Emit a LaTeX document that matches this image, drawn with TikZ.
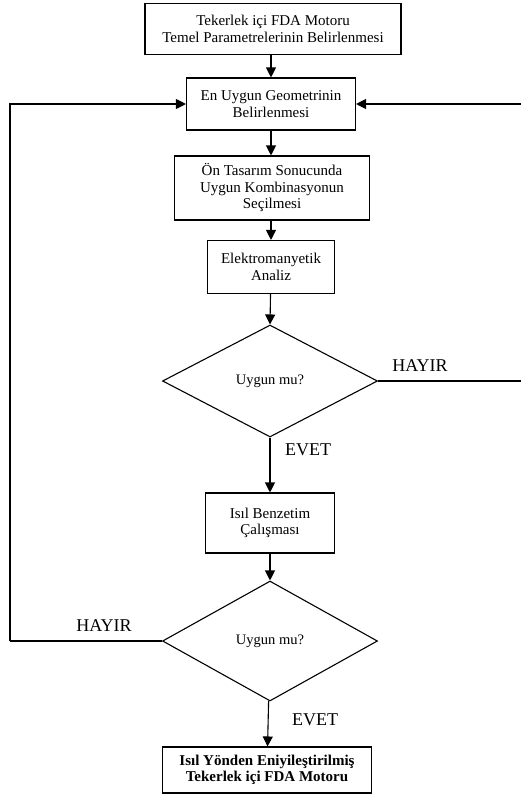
\documentclass[tikz,border=0pt]{standalone}
\usepackage{fontspec}
\setmainfont{Liberation Serif}
\usetikzlibrary{shapes.geometric,arrows.meta}
\tikzset{
  kutu/.style={draw, line width=1.1pt, align=center, inner sep=2pt, font=\fontsize{15}{16.5}\selectfont},
  karar/.style={draw, diamond, line width=1.1pt, inner sep=0pt, font=\fontsize{14.5}{16}\selectfont},
  etiket/.style={font=\fontsize{18}{20}\selectfont},
  ok/.style={line width=1.1pt, -{Triangle[width=10pt,length=10pt]}},
  hat/.style={line width=1.1pt}
}
\begin{document}
\begin{tikzpicture}[x=1pt,y=-1pt]
                \useasboundingbox (0,0) rectangle (521,796);

                % kutular
                \node[kutu, minimum width=256pt, minimum height=51pt] (temel) at (273,29) {Tekerlek içi FDA Motoru\\Temel Parametrelerinin Belirlenmesi};
                \node[kutu, minimum width=169pt, minimum height=52pt] (geometri) at (271,104) {En Uygun Geometrinin\\Belirlenmesi};
                \node[kutu, minimum width=195pt, minimum height=64pt] (tasarim) at (272,188) {Ön Tasarım Sonucunda\\Uygun Kombinasyonun\\Seçilmesi};
                \node[kutu, minimum width=127pt, minimum height=53pt] (analiz) at (271,267) {Elektromanyetik\\Analiz};
                \node[karar, minimum width=215pt, minimum height=112pt] (uygun1) at (270,381) {Uygun mu?};
                \node[kutu, minimum width=129pt, minimum height=60pt] (isil) at (270,523) {Isıl Benzetim\\Çalışması};
                \node[karar, minimum width=215pt, minimum height=120pt] (uygun2) at (270,641) {Uygun mu?};
                \node[kutu, minimum width=209pt, minimum height=46pt, font=\fontsize{15}{16.5}\selectfont\bfseries] (sonuc) at (267,770) {Isıl Yönden Eniyileştirilmiş\\Tekerlek içi FDA Motoru};

                \coordinate (sag) at (522,381);
                \coordinate (sol) at (10,641);

                % oklar
                \draw[ok] (temel.south -| geometri.north) -- (geometri);
                \draw[ok] (geometri) -- (tasarim.north -| geometri.south);
                \draw[ok] (tasarim.south -| analiz.north) -- (analiz);
                \draw[ok] (analiz) -- (uygun1.north);
                \draw[ok] (uygun1) -- (isil);
                \draw[ok] (isil) -- (uygun2.north);
                \draw[ok] (uygun2) -- (sonuc);
                \draw[hat] (uygun1.east) -- (sag);
                \draw[ok] (sag) -- (sag |- geometri.east) -- (geometri.east);
                \draw[hat] (uygun2.west) -- (sol);
                \draw[ok] (sol) -- (sol |- geometri.west) -- (geometri.west);

                \node[etiket] (hayir1) at (420,366) {HAYIR};
                \node[etiket] (evet1) at (308,450) {EVET};
                \node[etiket] (hayir2) at (104,626) {HAYIR};
                \node[etiket] (evet2) at (315,720) {EVET};
            \end{tikzpicture}
\end{document}
